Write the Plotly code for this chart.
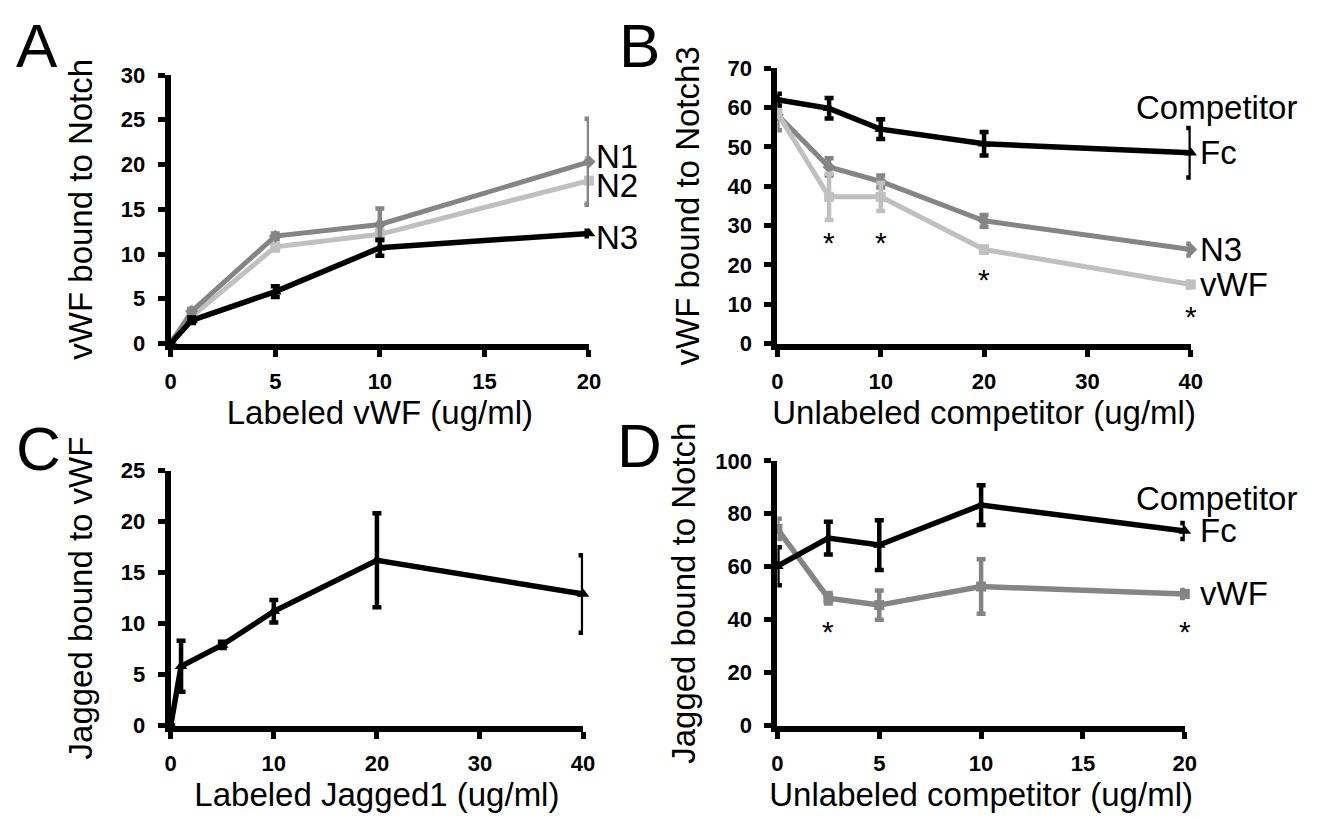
import plotly.graph_objects as go

# ---------------- Data ----------------
# Panel A: vWF bound to Notch vs labeled vWF
a_x = [0, 1, 5, 10, 20]
a_n1 = [0, 3.6, 12.0, 13.3, 20.3]
a_n1_err = [0, 0.3, 0.3, 1.8, 4.8]
a_n2 = [0.3, 3.0, 10.8, 12.2, 18.2]
a_n2_err = [0, 0.3, 0.4, 0.5, 2.5]
a_n3 = [0, 2.6, 5.8, 10.7, 12.3]
a_n3_err = [0, 0.3, 0.6, 0.9, 0.3]
a_names = ["N1", "N2", "N3"]
a_label_y = [20.9, 17.7, 11.9]
a_xticks = [0, 5, 10, 15, 20]

# Panel B: vWF bound to Notch3 vs unlabeled competitor
b_x = [0, 5, 10, 20, 40]
b_fc = [62.0, 59.8, 54.5, 50.8, 48.5]
b_fc_err = [1.5, 2.6, 2.5, 3.0, 6.3]
b_n3 = [58.2, 44.9, 41.2, 31.2, 23.9]
b_n3_err = [4.0, 2.2, 1.5, 1.5, 1.5]
b_vwf = [58.6, 37.3, 37.3, 23.9, 15.0]
b_vwf_err = [1.0, 5.9, 3.6, 0.8, 0.8]
b_star_x = [5, 10, 20, 40]
b_star_y = [27.5, 27.5, 18.1, 8.7]
b_names = ["Fc", "N3", "vWF"]
b_label_y = [48.7, 23.8, 14.9]
b_header_y = 60.0
b_xticks = [0, 10, 20, 30, 40]

# Panel C: Jagged bound to vWF vs labeled Jagged1
c_x = [0, 1, 5, 10, 20, 40]
c_y = [0, 5.8, 7.9, 11.2, 16.2, 12.9]
c_err = [0, 2.5, 0.3, 1.1, 4.6, 3.8]
c_xticks = [0, 10, 20, 30, 40]

# Panel D: Jagged bound to Notch vs unlabeled competitor
d_x = [0, 2.5, 5, 10, 20]
d_fc = [60.2, 70.8, 68.2, 83.3, 73.5]
d_fc_err = [7.2, 6.2, 9.4, 7.5, 3.0]
d_vwf = [74.3, 48.1, 45.5, 52.5, 49.7]
d_vwf_err = [3.8, 2.0, 5.5, 10.3, 1.5]
d_star_x = [2.5, 20]
d_star_y = [38.2, 38.2]
d_names = ["Fc", "vWF"]
d_label_y = [73.5, 49.8]
d_header_y = 85.6
d_xticks = [0, 5, 10, 15, 20]

# ---------------- Styles ----------------
W, H = 1329, 818
FONT = "Liberation Sans, Arial, sans-serif"
BLACK = "#000000"
DARK = "#858585"
LIGHT = "#c0c0c0"


def px_x(p):
    return p / W


def px_y(p):
    return 1 - p / H


fig = go.Figure()


def add_series(x, y, err, color, symbol, xa, ya, lw=5, ms=10):
    fig.add_trace(go.Scatter(
        x=x, y=y, mode="lines+markers", xaxis=xa, yaxis=ya,
        line=dict(color=color, width=lw),
        marker=dict(color=color, symbol=symbol, size=ms),
        error_y=dict(type="data", array=err, visible=True, color=color,
                     thickness=4.5, width=4.5),
        cliponaxis=False, showlegend=False, hoverinfo="x+y",
    ))


# Panel A
add_series(a_x, a_n2, a_n2_err, LIGHT, "square", "x", "y")
add_series(a_x, a_n1, a_n1_err, DARK, "diamond", "x", "y")
add_series(a_x, a_n3, a_n3_err, BLACK, "triangle-up", "x", "y", lw=5.5, ms=11)
# Panel B
add_series(b_x, b_n3, b_n3_err, DARK, "diamond", "x2", "y2")
add_series(b_x, b_vwf, b_vwf_err, LIGHT, "square", "x2", "y2")
add_series(b_x, b_fc, b_fc_err, BLACK, "triangle-up", "x2", "y2", lw=5.5, ms=11)
# Panel C
add_series(c_x, c_y, c_err, BLACK, "triangle-up", "x3", "y3", lw=5.5, ms=11)
# Panel D
add_series(d_x, d_vwf, d_vwf_err, DARK, "square", "x4", "y4", lw=5.5)
add_series(d_x, d_fc, d_fc_err, BLACK, "triangle-up", "x4", "y4", lw=5.5, ms=11)


def axis_common(title, standoff, tickvals=None, dtick=None, rng=None, domain=None, anchor=None, lblstand=9):
    d = dict(
        showline=True, linecolor=BLACK, linewidth=6,
        ticks="outside", ticklen=7, tickwidth=5, tickcolor=BLACK,
        showgrid=False, zeroline=False,
        tickfont=dict(family=FONT, size=22, color=BLACK, weight="bold"),
        ticklabelstandoff=lblstand,
        title=dict(text=title, font=dict(family=FONT, size=33, color=BLACK), standoff=standoff),
        range=rng, domain=domain, anchor=anchor, fixedrange=True,
    )
    if tickvals is not None:
        d["tickmode"] = "array"
        d["tickvals"] = tickvals
    if dtick is not None:
        d["tickmode"] = "linear"
        d["tick0"] = 0
        d["dtick"] = dtick
    return d


# pixel positions of plot areas
A = dict(x0=167, x1=591, yb=342, yt=65)
B = dict(x0=782, x1=1201, yb=342, yt=58)
C = dict(x0=167, x1=585, yb=736, yt=473)
D = dict(x0=782, x1=1195, yb=736, yt=463)


def dom_x(p):
    return [px_x(p["x0"]), px_x(p["x1"])]


def dom_y(p):
    return [px_y(p["yb"]), px_y(p["yt"])]


XS = 6   # x tick label standoff
YS = 8   # y tick label standoff
xa = axis_common("Labeled vWF (ug/ml)", 2, tickvals=a_xticks, rng=[0, 20], domain=dom_x(A), anchor="y", lblstand=XS)
ya = axis_common("vWF bound to Notch", 20, dtick=5, rng=[0, 30], domain=dom_y(A), anchor="x", lblstand=YS)
xb = axis_common("Unlabeled competitor (ug/ml)", 2, tickvals=b_xticks, rng=[0, 40], domain=dom_x(B), anchor="y2", lblstand=XS)
yb = axis_common("vWF bound to Notch3", 20, dtick=10, rng=[0, 70], domain=dom_y(B), anchor="x2", lblstand=YS)
xc = axis_common("Labeled Jagged1 (ug/ml)", 2, tickvals=c_xticks, rng=[0, 40], domain=dom_x(C), anchor="y3", lblstand=XS)
yc = axis_common("Jagged bound to vWF", 20, dtick=5, rng=[0, 25], domain=dom_y(C), anchor="x3", lblstand=YS)
xd = axis_common("Unlabeled competitor (ug/ml)", 2, tickvals=d_xticks, rng=[0, 20], domain=dom_x(D), anchor="y4", lblstand=XS)
yd = axis_common("Jagged bound to Notch", 12, dtick=20, rng=[0, 100], domain=dom_y(D), anchor="x4", lblstand=YS)

annotations = []
LBL = dict(family=FONT, size=33, color=BLACK)

# series labels
for name, yv in zip(a_names, a_label_y):
    annotations.append(dict(x=20, y=yv, xref="x", yref="y", text=name, showarrow=False,
                            xanchor="left", yanchor="middle", xshift=5, font=LBL))
annotations.append(dict(x=40, y=b_header_y, xref="x2", yref="y2", text="Competitor", showarrow=False,
                        xanchor="left", yanchor="middle", xshift=-57, font=LBL))
for name, yv in zip(b_names, b_label_y):
    annotations.append(dict(x=40, y=yv, xref="x2", yref="y2", text=name, showarrow=False,
                            xanchor="left", yanchor="middle", xshift=7, font=LBL))
annotations.append(dict(x=20, y=d_header_y, xref="x4", yref="y4", text="Competitor", showarrow=False,
                        xanchor="left", yanchor="middle", xshift=-51, font=LBL))
for name, yv in zip(d_names, d_label_y):
    annotations.append(dict(x=20, y=yv, xref="x4", yref="y4", text=name, showarrow=False,
                            xanchor="left", yanchor="middle", xshift=13, font=LBL))

# significance asterisks
STAR = dict(family=FONT, size=30, color=BLACK)
for sx, sy in zip(b_star_x, b_star_y):
    annotations.append(dict(x=sx, y=sy, xref="x2", yref="y2", text="*", showarrow=False,
                            xanchor="center", yanchor="middle", yshift=-7, font=STAR))
for sx, sy in zip(d_star_x, d_star_y):
    annotations.append(dict(x=sx, y=sy, xref="x4", yref="y4", text="*", showarrow=False,
                            xanchor="center", yanchor="middle", yshift=-7, font=STAR))

# panel letters
PAN = dict(family=FONT, size=62, color=BLACK)
for letter, lx, ly in [("A", 31, 35), ("B", 642, 35), ("C", 33, 450), ("D", 642, 447)]:
    annotations.append(dict(x=px_x(lx), y=px_y(ly), xref="paper", yref="paper", text=letter,
                            showarrow=False, xanchor="center", yanchor="middle", font=PAN))

fig.update_layout(
    width=W, height=H,
    margin=dict(l=0, r=0, t=0, b=0),
    paper_bgcolor="white", plot_bgcolor="white",
    font=dict(family=FONT, color=BLACK),
    showlegend=False,
    xaxis=xa, yaxis=ya, xaxis2=xb, yaxis2=yb,
    xaxis3=xc, yaxis3=yc, xaxis4=xd, yaxis4=yd,
    annotations=annotations,
)

fig.write_html(
    "out.html",
    config={"displayModeBar": False, "staticPlot": True},
    post_script="document.body.style.margin='0px';document.body.style.padding='0px';document.body.style.overflow='hidden';",
)
